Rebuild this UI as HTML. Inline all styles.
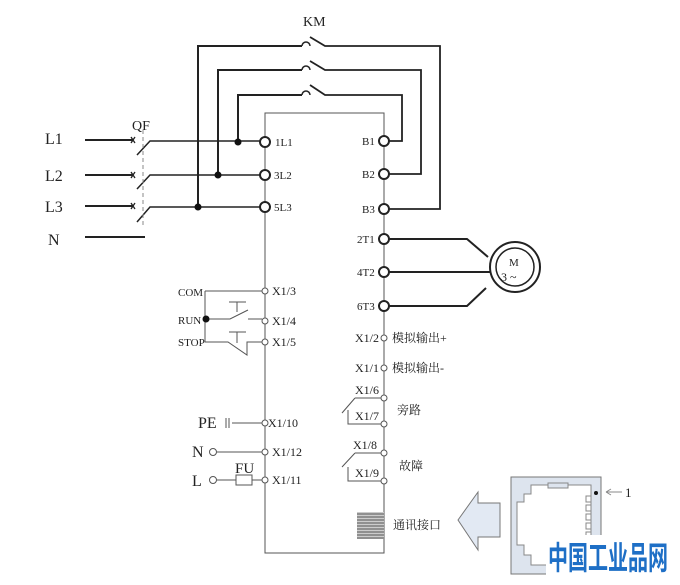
<!DOCTYPE html>
<html><head><meta charset="utf-8"><style>
body{margin:0;background:#fff}
svg{display:block}
text{font-family:"Liberation Serif","Noto Serif CJK SC",serif;fill:#222}
.c{font-family:"Liberation Serif","Noto Sans CJK SC",sans-serif}
</style></head><body>
<svg width="680" height="585" viewBox="0 0 680 585" xmlns="http://www.w3.org/2000/svg">
<g fill="none" stroke="#222">
<rect x="265" y="113" width="119" height="440" stroke="#555" stroke-width="1"/>
<g stroke-width="2">
<path d="M198 207V46H302M218 175V70H302M238 142V95H302"/>
<path d="M302 46a4 4 0 0 1 8 0M302 70a4 4 0 0 1 8 0M302 95a4 4 0 0 1 8 0" stroke-width="1.5"/>
<path d="M310 37l15 9H440V209H389M310 61l15 9H421V174H389M310 85l15 10H402V141H389" stroke-width="1.8"/>
<path d="M85 140H133M85 175H133M85 206H133M85 237H145"/>
<path d="M137 155l13-14H260M137 189l13-14H260M137 222l13-15H260" stroke-width="1.5"/>
<path d="M389 239H467L488 257M389 272H490M389 306H467L486 288"/>
</g>
<path d="M131 137l4 6M135 137l-4 6M131 172l4 6M135 172l-4 6M131 203l4 6M135 203l-4 6" stroke-width="1.3"/>
<path d="M143 130V225" stroke-dasharray="4 3" stroke="#888"/>
<circle cx="515" cy="267" r="25" stroke-width="2"/>
<circle cx="515" cy="267" r="19" stroke-width="1.5"/>
<g stroke-width="2" fill="#fff">
<circle cx="265" cy="142" r="5"/><circle cx="265" cy="175" r="5"/><circle cx="265" cy="207" r="5"/>
<circle cx="384" cy="141" r="5"/><circle cx="384" cy="174" r="5"/><circle cx="384" cy="209" r="5"/>
<circle cx="384" cy="239" r="5"/><circle cx="384" cy="272" r="5"/><circle cx="384" cy="306" r="5"/>
</g>
<path d="M205 291H262M205 291V342H228L247 355V342H262M206 319H230L248 310M248 319H262M229 302H246M237 302V312M229 332H246M237 332V343" stroke="#555"/>
<path d="M232 423H262M217 452H262M217 480H236M252 480H262" stroke="#555"/>
<path d="M226 418V428M229 418V428" stroke="#555"/>
<rect x="236" y="475" width="16" height="10" stroke="#555"/>
<circle cx="213" cy="452" r="3.5" stroke="#555" fill="#fff"/>
<circle cx="213" cy="480" r="3.5" stroke="#555" fill="#fff"/>
<g fill="#fff" stroke="#555">
<circle cx="265" cy="291" r="3"/><circle cx="265" cy="321" r="3"/><circle cx="265" cy="342" r="3"/>
<circle cx="265" cy="423" r="3"/><circle cx="265" cy="452" r="3"/><circle cx="265" cy="480" r="3"/>
<circle cx="384" cy="338" r="3"/><circle cx="384" cy="368" r="3"/>
<circle cx="384" cy="398" r="3"/><circle cx="384" cy="424" r="3"/>
<circle cx="384" cy="453" r="3"/><circle cx="384" cy="481" r="3"/>
</g>
<path d="M355 398H381M342 413L355 398M348 410V424H381M355 453H381M342 467L355 453M348 467V481H381" stroke="#555"/>
<path d="M458 520L478 492V503H500V537H478V550Z" fill="#e2e9f3" stroke="#777"/>
<rect x="511" y="477" width="90" height="97" fill="#dde4ee" stroke="#777"/>
<path d="M531 485H591V565H531V555H524V545H517V502H524V494H531Z" fill="#fff" stroke="#888"/>
<rect x="548" y="483" width="20" height="5" fill="#dde4ee" stroke="#888"/>
<g stroke="#888" fill="#fff"><rect x="586" y="496" width="5" height="6"/><rect x="586" y="505" width="5" height="6"/><rect x="586" y="514" width="5" height="6"/><rect x="586" y="523" width="5" height="6"/><rect x="586" y="532" width="5" height="6"/></g>
<path d="M606 492H622M606 492l5-3M606 492l5 3" stroke="#888"/>
</g>
<circle cx="206" cy="319" r="3.5" fill="#111"/>
<circle cx="238" cy="142" r="3.5" fill="#111"/><circle cx="218" cy="175" r="3.5" fill="#111"/><circle cx="198" cy="207" r="3.5" fill="#111"/>
<circle cx="596" cy="493" r="2" fill="#111"/>
<rect x="357" y="512" width="27" height="27" fill="#ccc"/>
<path d="M357 514h27M357 517h27M357 520h27M357 523h27M357 526h27M357 529h27M357 532h27M357 535h27M357 538h27" stroke="#555"/>
<text x="303" y="26" font-size="14">KM</text>
<text x="132" y="130" font-size="14">QF</text>
<text x="45" y="144" font-size="16">L1</text>
<text x="45" y="181" font-size="16">L2</text>
<text x="45" y="212" font-size="16">L3</text>
<text x="48" y="245" font-size="16">N</text>
<g font-size="11">
<text x="275" y="146">1L1</text><text x="274" y="179">3L2</text><text x="274" y="211">5L3</text>
<text x="362" y="145">B1</text><text x="362" y="178">B2</text><text x="362" y="213">B3</text>
<text x="357" y="243">2T1</text><text x="357" y="276">4T2</text><text x="357" y="310">6T3</text>
<text x="178" y="296">COM</text><text x="178" y="324">RUN</text><text x="178" y="346">STOP</text>
</g>
<g font-size="12">
<text x="272" y="295">X1/3</text><text x="272" y="325">X1/4</text><text x="272" y="346">X1/5</text>
<text x="268" y="427">X1/10</text><text x="272" y="456">X1/12</text><text x="272" y="484">X1/11</text>
<text x="355" y="342">X1/2</text><text x="355" y="372">X1/1</text>
<text x="355" y="394">X1/6</text><text x="355" y="420">X1/7</text>
<text x="353" y="449">X1/8</text><text x="355" y="477">X1/9</text>
</g>
<text x="198" y="428" font-size="16">PE</text>
<text x="192" y="457" font-size="16">N</text>
<text x="192" y="486" font-size="16">L</text>
<text x="235" y="473" font-size="15">FU</text>
<text x="509" y="266" font-size="11">M</text>
<text x="501" y="281" font-size="12">3 ~</text>
<text x="625" y="497" font-size="13" fill="#777">1</text>
<g class="c" font-size="12">
<text x="392" y="342">模拟输出+</text><text x="392" y="372">模拟输出-</text>
<text x="397" y="414">旁路</text><text x="399" y="470">故障</text>
<text x="393" y="529">通讯接口</text>
</g>
<rect x="546" y="535" width="124" height="40" fill="#fff"/>
<text x="548" y="569" font-size="32" font-weight="bold" textLength="120" lengthAdjust="spacingAndGlyphs" style="font-family:'Noto Sans CJK SC',sans-serif;fill:#1e6fc6">中国工业品网</text>
</svg>
</body></html>
